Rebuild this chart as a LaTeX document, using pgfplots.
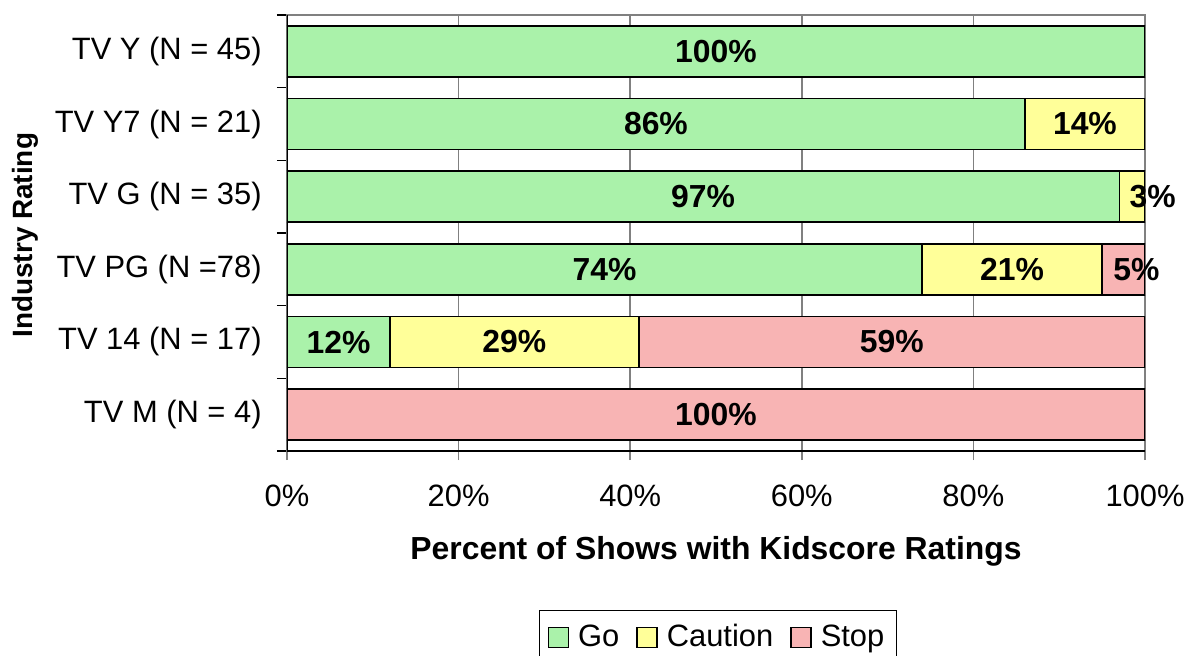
\documentclass[border=0pt]{standalone}
\usepackage{pgfplots}
\pgfplotsset{compat=1.18}
\usepackage{fontspec}
\setmainfont{Liberation Sans}
\definecolor{gocol}{RGB}{170,242,170}
\definecolor{cautcol}{RGB}{255,255,153}
\definecolor{stopcol}{RGB}{248,180,180}
\definecolor{gridcol}{RGB}{128,128,128}
\begin{document}
\begin{tikzpicture}
\useasboundingbox (-143.5bp,-102.5bp) rectangle (451.5bp,225.5bp);
\pgfplotsset{base/.style={
  scale only axis, width=429bp, height=218bp,
  xmin=0, xmax=100, ymin=-0.5, ymax=5.5}}
\begin{axis}[base,
  xbar stacked, bar width=25.5bp,
  xtick={0,20,...,100}, xticklabels={0\%,20\%,40\%,60\%,80\%,100\%},
  ytick={0,...,5},
  yticklabels={TV M (N = 4),TV 14 (N = 17),TV PG (N =78),TV G (N = 35),TV Y7 (N = 21),TV Y (N = 45)},
  minor ytick={-0.5,0.5,...,5.5},
  xtick pos=bottom, ytick pos=left,
  tick align=outside, major tick length=4.5bp, minor tick length=5bp,
  major y tick style={draw=none},
  minor y tick style={black, line width=0.75bp},
  major x tick style={gridcol, line width=0.75bp},
  xmajorgrids, major grid style={gridcol, line width=0.75bp},
  axis line style={gridcol, line width=0.75bp},
  tick label style={font=\fontsize{15.5}{18}\selectfont},
  xticklabel style={anchor=north, inner sep=0pt, yshift=-12.5bp},
  yticklabel style={anchor=east, inner sep=0pt, xshift=-8bp},
  xlabel={Percent of Shows with Kidscore Ratings},
  xlabel style={font=\fontsize{16}{19}\bfseries\selectfont, at={(axis description cs:0.5,-0.2294)}, anchor=center},
  ylabel={Industry Rating},
  ylabel style={font=\fontsize{14}{17}\bfseries\selectfont, at={(axis description cs:-0.3054,0.495)}, anchor=center},
  legend columns=3,
  legend style={at={(axis description cs:0.5023,-0.3647)}, anchor=north, draw=black, line width=0.6bp,
    font=\fontsize{15.5}{18}\selectfont, inner xsep=4bp, inner ysep=5bp,
    /tikz/every even column/.append style={column sep=6.5bp}},
  legend image code/.code={\draw[#1, draw=black, line width=0.75bp] (0bp,-5bp) rectangle (10bp,5bp); \path (12.5bp,0bp);},
]
\addplot[fill=gocol, draw=black, line width=0.75bp] coordinates {(0,0) (12,1) (74,2) (97,3) (86,4) (100,5)};
\addplot[fill=cautcol, draw=black, line width=0.75bp] coordinates {(0,0) (29,1) (21,2) (3,3) (14,4) (0,5)};
\addplot[fill=stopcol, draw=black, line width=0.75bp] coordinates {(100,0) (59,1) (5,2) (0,3) (0,4) (0,5)};
\legend{Go,Caution,Stop}
\draw[black, line width=0.75bp] (rel axis cs:0,1) -- (rel axis cs:0,0) -- (rel axis cs:1,0);
\end{axis}
\begin{axis}[base, hide axis, clip=false]
\addplot[draw=none, mark=none, nodes near coords={\pgfplotspointmeta\%}, point meta=explicit symbolic,
  every node near coord/.style={anchor=center, font=\fontsize{16}{19}\bfseries\selectfont, text=black}]
  table[meta=v] {
x y v
50 5 100
43 4 86
93 4 14
48.5 3 97
100.9 3 3
37 2 74
84.5 2 21
99.0 2 5
6 1 12
26.5 1 29
70.5 1 59
50 0 100
};
\end{axis}
\end{tikzpicture}
\end{document}
